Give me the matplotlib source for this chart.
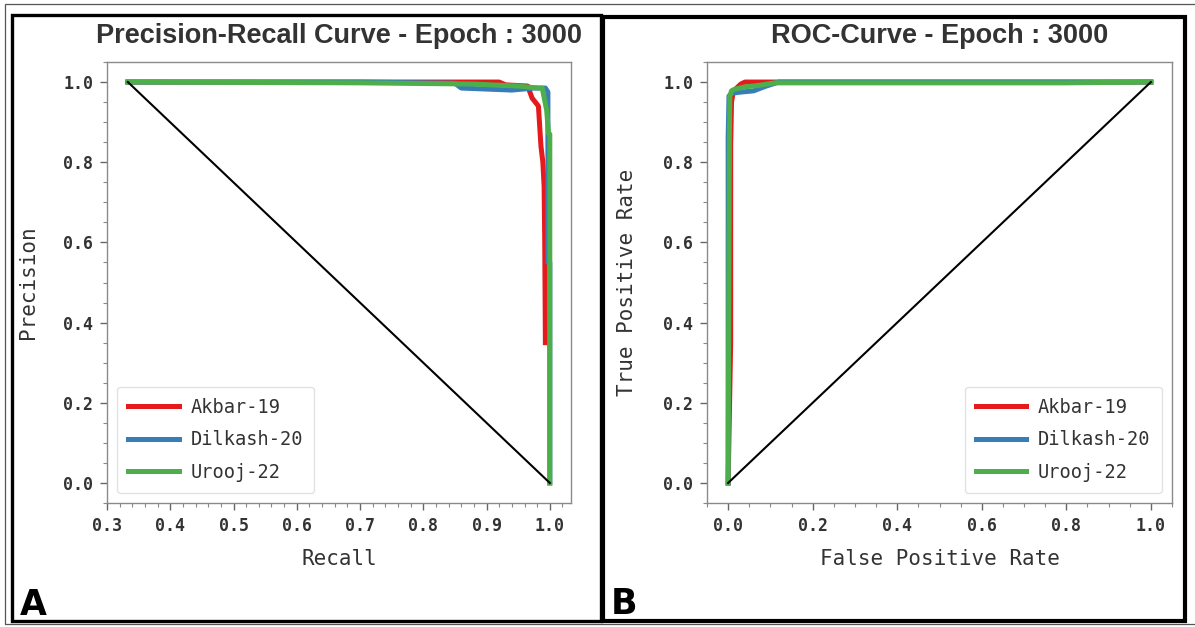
import matplotlib
matplotlib.use("Agg")
import matplotlib.pyplot as plt
from matplotlib.patches import Rectangle
from matplotlib.lines import Line2D
from matplotlib.ticker import AutoMinorLocator

# ---- data ----
labels = ["Akbar-19", "Dilkash-20", "Urooj-22"]
colors = ["#e41a1c", "#377eb8", "#4daf4a"]

# precision-recall curves (recall, precision)
pr_recall_akbar = [0.333, 0.70, 0.92, 0.93, 0.965, 0.972, 0.982, 0.986, 0.989, 0.991, 0.992, 0.993]
pr_prec_akbar = [1.0, 1.0, 1.0, 0.993, 0.99, 0.96, 0.94, 0.84, 0.80, 0.74, 0.60, 0.35]

pr_recall_dilkash = [0.333, 0.70, 0.85, 0.86, 0.94, 0.975, 0.993, 0.997, 0.997, 1.0, 1.0]
pr_prec_dilkash = [1.0, 1.0, 0.997, 0.985, 0.98, 0.985, 0.985, 0.975, 0.55, 0.55, 0.0]

pr_recall_urooj = [0.333, 0.70, 0.88, 0.95, 0.982, 0.988, 0.995, 0.998, 1.0, 1.0]
pr_prec_urooj = [1.0, 0.998, 0.995, 0.99, 0.985, 0.985, 0.93, 0.872, 0.87, 0.0]

pr_baseline_x = [0.333, 1.0]
pr_baseline_y = [1.0, 0.0]

# ROC curves (fpr, tpr)
roc_fpr_akbar = [0.0, 0.006, 0.006, 0.008, 0.012, 0.02, 0.03, 0.04, 1.0]
roc_tpr_akbar = [0.0, 0.35, 0.84, 0.95, 0.975, 0.985, 0.995, 1.0, 1.0]

roc_fpr_dilkash = [0.0, 0.0, 0.002, 0.008, 0.03, 0.06, 0.09, 0.12, 0.2, 1.0]
roc_tpr_dilkash = [0.0, 0.86, 0.965, 0.972, 0.975, 0.978, 0.99, 1.0, 1.0, 1.0]

roc_fpr_urooj = [0.0, 0.003, 0.004, 0.008, 0.015, 0.04, 0.075, 0.11, 0.2, 0.8, 1.0]
roc_tpr_urooj = [0.0, 0.87, 0.965, 0.978, 0.982, 0.988, 0.992, 0.998, 0.998, 0.998, 1.0]

roc_baseline_x = [0.0, 1.0]
roc_baseline_y = [0.0, 1.0]

MONO = "DejaVu Sans Mono"
TXT = "#333333"


def style_axes(ax):
    for sp in ax.spines.values():
        sp.set_color("#8a8a8a")
        sp.set_linewidth(1.0)
    ax.xaxis.set_minor_locator(AutoMinorLocator())
    ax.yaxis.set_minor_locator(AutoMinorLocator())
    ax.tick_params(which="major", length=5, width=1, color="#666666",
                   labelsize=12, labelcolor=TXT, pad=5)
    ax.tick_params(which="minor", length=3, width=0.8, color="#888888")
    for lab in ax.get_xticklabels() + ax.get_yticklabels():
        lab.set_fontfamily(MONO)
        lab.set_fontweight("bold")


def add_legend(ax, loc):
    handles = [Line2D([], [], color=c, lw=3.6) for c in colors]
    leg = ax.legend(handles, labels, loc=loc, fancybox=True, framealpha=1.0,
                    handlelength=2.7, borderpad=0.6, labelspacing=0.72,
                    handletextpad=0.65, borderaxespad=0.55,
                    prop={"family": MONO, "size": 13.4, "weight": "medium"})
    leg.get_frame().set_edgecolor("#e2e2e2")
    for t in leg.get_texts():
        t.set_color(TXT)


fig = plt.figure(figsize=(11.95, 6.27), dpi=100)
W, H = 1195, 627


def px_axes(l, t, r, b):
    return fig.add_axes([l / W, 1 - b / H, (r - l) / W, (b - t) / H])


# panel borders
fig.patches.append(Rectangle((5 / W, 3 / H), 1.2, 1 - 7 / H, transform=fig.transFigure,
                             fill=False, ec="#555555", lw=0.9))
fig.patches.append(Rectangle((12 / W, 1 - 621 / H), 589 / W, 606 / H, transform=fig.transFigure,
                             fill=False, ec="black", lw=2.4, zorder=5))
fig.patches.append(Rectangle((603 / W, 1 - 621 / H), 582 / W, 604 / H, transform=fig.transFigure,
                             fill=False, ec="black", lw=3.0, zorder=5))

# ---- panel A: precision-recall ----
ax1 = px_axes(107, 62, 571, 503)
for x, y, c, lab in [(pr_recall_akbar, pr_prec_akbar, colors[0], labels[0]),
                     (pr_recall_dilkash, pr_prec_dilkash, colors[1], labels[1]),
                     (pr_recall_urooj, pr_prec_urooj, colors[2], labels[2])]:
    ax1.plot(x, y, color=c, lw=3.6, label=lab, solid_joinstyle="round")
ax1.plot(pr_baseline_x, pr_baseline_y, color="black", lw=1.5)
ax1.set_xlim(0.3, 1.0335)
ax1.set_ylim(-0.05, 1.05)
ax1.set_xticks([0.3, 0.4, 0.5, 0.6, 0.7, 0.8, 0.9, 1.0])
ax1.set_yticks([0.0, 0.2, 0.4, 0.6, 0.8, 1.0])
style_axes(ax1)
ax1.set_xlabel("Recall", fontfamily=MONO, fontsize=15, color=TXT, labelpad=10)
ax1.set_ylabel("Precision", fontfamily=MONO, fontsize=15, color=TXT, labelpad=18)
ax1.set_title("Precision-Recall Curve - Epoch : 3000", fontfamily="Liberation Sans",
              fontweight="bold", fontsize=19.5, color=TXT, pad=14)
add_legend(ax1, "lower left")

# ---- panel B: ROC ----
ax2 = px_axes(707, 62, 1172, 503)
for x, y, c, lab in [(roc_fpr_akbar, roc_tpr_akbar, colors[0], labels[0]),
                     (roc_fpr_dilkash, roc_tpr_dilkash, colors[1], labels[1]),
                     (roc_fpr_urooj, roc_tpr_urooj, colors[2], labels[2])]:
    ax2.plot(x, y, color=c, lw=3.6, label=lab, solid_joinstyle="round")
ax2.plot(roc_baseline_x, roc_baseline_y, color="black", lw=1.5)
ax2.set_xlim(-0.05, 1.05)
ax2.set_ylim(-0.05, 1.05)
ax2.set_xticks([0.0, 0.2, 0.4, 0.6, 0.8, 1.0])
ax2.set_yticks([0.0, 0.2, 0.4, 0.6, 0.8, 1.0])
style_axes(ax2)
ax2.set_xlabel("False Positive Rate", fontfamily=MONO, fontsize=15, color=TXT, labelpad=10)
ax2.set_ylabel("True Positive Rate", fontfamily=MONO, fontsize=15, color=TXT, labelpad=19)
ax2.set_title("ROC-Curve - Epoch : 3000", fontfamily="Liberation Sans",
              fontweight="bold", fontsize=19.5, color=TXT, pad=14)
add_legend(ax2, "lower right")

# panel letters
fig.text(20 / W, 1 - 615 / H, "A", fontfamily="DejaVu Sans", fontweight="heavy",
         fontsize=25, color="black", ha="left", va="baseline")
fig.text(611 / W, 1 - 614 / H, "B", fontfamily="DejaVu Sans", fontweight="heavy",
         fontsize=25, color="black", ha="left", va="baseline")

fig.savefig("out.png", dpi=100)
